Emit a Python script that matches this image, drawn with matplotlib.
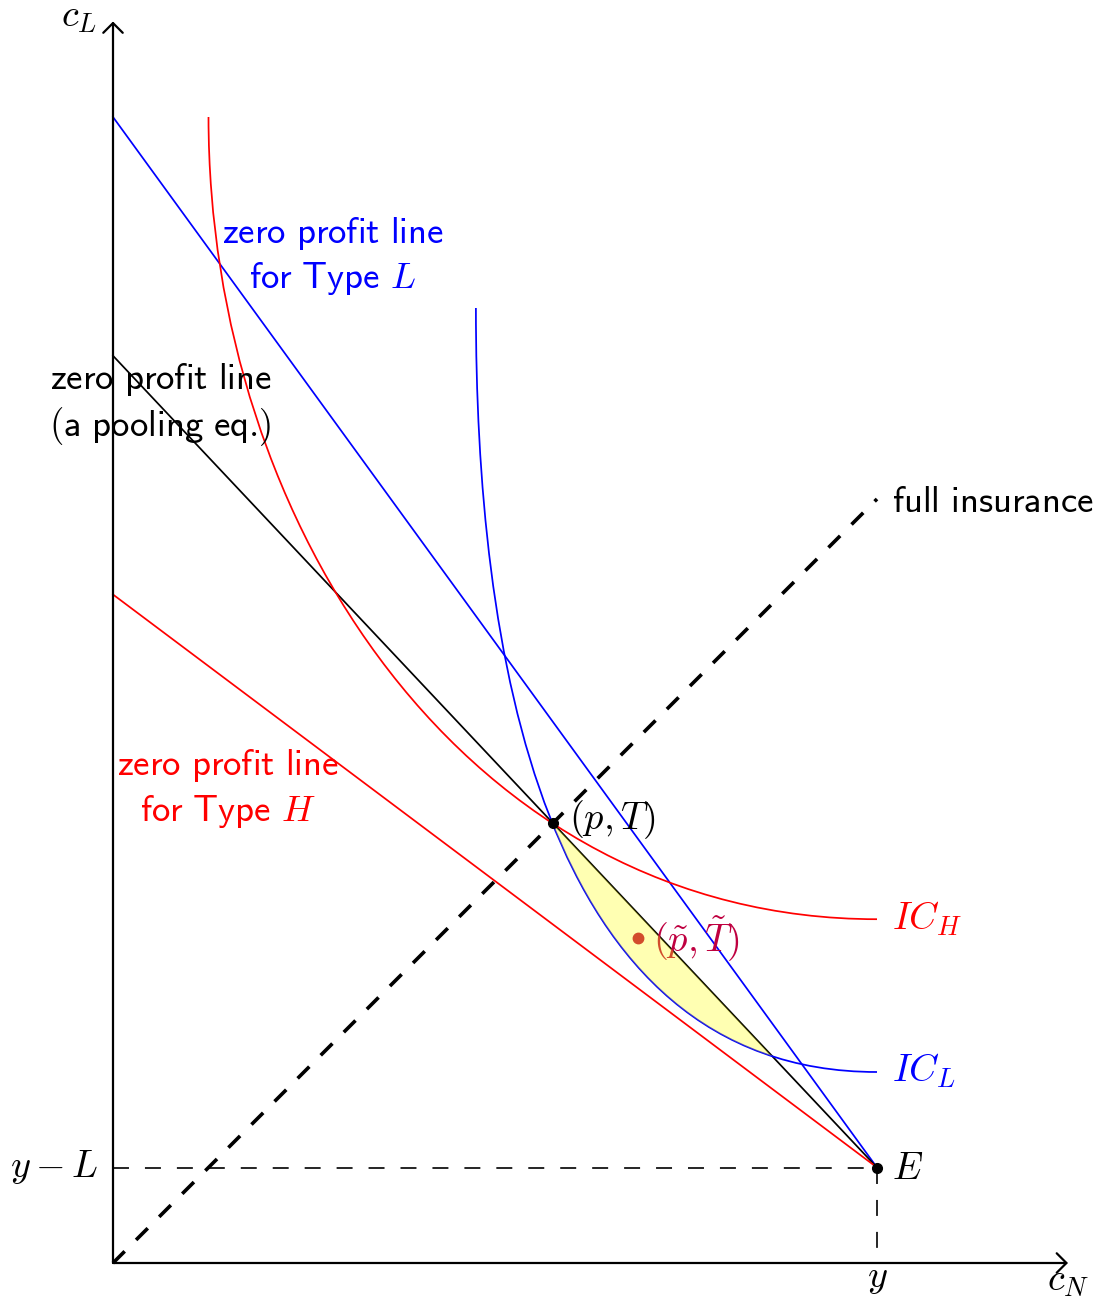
import numpy as np
import matplotlib
matplotlib.use("Agg")
import matplotlib.pyplot as plt
from matplotlib.path import Path
from matplotlib.patches import PathPatch
from matplotlib.bezier import BezierSegment

plt.rcParams["mathtext.fontset"] = "cm"
plt.rcParams["lines.scale_dashes"] = False

# --- model values -------------------------------------------------------
income = 8.0              # y : consumption with no loss (c_N)
income_after_loss = 1.0   # y - L : consumption after the loss (c_L)
zp_intercept_type_l = 12.0   # zero-profit line for the low-risk type
zp_intercept_pool = 9.5      # zero-profit line of a pooling contract
zp_intercept_type_h = 7.0    # zero-profit line for the high-risk type
ic_h_start = (1.0, 12.0)     # indifference curve of type H
ic_h_end = (8.0, 3.6)
ic_l_start = (3.8, 10.0)     # indifference curve of type L
ic_l_end = (8.0, 2.0)
full_insurance_end = 8.0
deviation = (5.5, 3.4)       # profitable deviation (p~, T~)
axis_x_max = 10.0
axis_y_max = 13.0

PURPLE = (191 / 255, 0, 64 / 255)
FS_MATH = 27.5
FS_SANS = 26.5


def curve_controls(p0, p3, out_deg, in_deg, looseness=1.0):
    """Cubic Bezier control polygon of a curve leaving p0 at out_deg and
    entering p3 from in_deg."""
    p0 = np.asarray(p0, float)
    p3 = np.asarray(p3, float)
    f = 0.3915 * looseness * np.hypot(*(p3 - p0))
    a, b = np.radians(out_deg), np.radians(in_deg)
    c1 = p0 + f * np.array([np.cos(a), np.sin(a)])
    c2 = p3 + f * np.array([np.cos(b), np.sin(b)])
    return np.array([p0, c1, c2, p3])


def zp_line(intercept):
    xs = np.array([0.0, income])
    return xs, np.array([intercept, income_after_loss])


fig = plt.figure(figsize=(10.97, 13), dpi=100)
ax = fig.add_axes([0, 0, 1, 1])
s = 95.5
ax.set_xlim(-113 / s, 984 / s)
ax.set_ylim(-37 / s, 1263 / s)
ax.axis("off")

# axes with open arrow heads
arrow_kw = dict(arrowstyle="->,head_length=0.35,head_width=0.35",
                lw=1.6, color="black", shrinkA=0, shrinkB=0, mutation_scale=20)
ax.annotate("", xy=(axis_x_max, 0), xytext=(0, 0), arrowprops=arrow_kw, zorder=6)
ax.annotate("", xy=(0, axis_y_max), xytext=(0, 0), arrowprops=arrow_kw, zorder=6)

# endowment guides
ax.plot([0, income], [income_after_loss, income_after_loss], color="black",
        lw=1.2, dashes=(11.5, 11.5), dash_capstyle="butt", zorder=2)
ax.plot([income, income], [income_after_loss, 0], color="black",
        lw=1.2, dashes=(11.5, 11.5), dash_capstyle="butt", zorder=2)

# full insurance line
ax.plot([0, full_insurance_end], [0, full_insurance_end], color="black",
        lw=2.6, dashes=(11.9, 11.6), dash_capstyle="butt", zorder=2)

# zero-profit lines
ax.plot(*zp_line(zp_intercept_type_l), color="blue", lw=1.25, zorder=3)
ax.plot(*zp_line(zp_intercept_pool), color="black", lw=1.25, zorder=3)
ax.plot(*zp_line(zp_intercept_type_h), color="red", lw=1.25, zorder=3)

# indifference curves
codes = [Path.MOVETO, Path.CURVE4, Path.CURVE4, Path.CURVE4]
ic_h_ctrl = curve_controls(ic_h_start, ic_h_end, -90, 180)
ic_l_ctrl = curve_controls(ic_l_start, ic_l_end, -90, 180)
ax.add_patch(PathPatch(Path(ic_h_ctrl, codes), fill=False, edgecolor="red",
                       lw=1.25, zorder=3))
ax.add_patch(PathPatch(Path(ic_l_ctrl, codes), fill=False, edgecolor="blue",
                       lw=1.25, zorder=3))

# pooling contract on the full insurance line
slope_pool = (zp_intercept_pool - income_after_loss) / income
p_pool = zp_intercept_pool / (1 + slope_pool)

# lens between the pooling line and IC_L
seg = BezierSegment(ic_l_ctrl)
pts = seg(np.linspace(0, 1, 3000))
below = pts[:, 1] < zp_intercept_pool - slope_pool * pts[:, 0]
lens = pts[below]
ax.fill(lens[:, 0], lens[:, 1], color="yellow", alpha=0.3, lw=0, zorder=4)

# points
ax.plot(income, income_after_loss, "o", color="black", ms=7, zorder=5)
ax.plot(p_pool, p_pool, "o", color="black", ms=7, zorder=5)
ax.plot(*deviation, "o", color=PURPLE, ms=7.5, zorder=3)

# labels
ax.text(-0.168, 12.946, r"$c_L$", fontsize=FS_MATH, ha="right", va="baseline")
ax.text(axis_x_max, -0.29, r"$c_N$", fontsize=FS_MATH, ha="center", va="baseline")
ax.text(income, -0.248, r"$y$", fontsize=FS_MATH, ha="center", va="baseline")
ax.text(-0.154, 0.904, r"$y-L$", fontsize=FS_MATH, ha="right", va="baseline")
ax.text(income + 0.154, 0.877, r"$E$", fontsize=FS_MATH, ha="left", va="baseline")
ax.text(p_pool + 0.17, 4.541, r"$(p,T)$", fontsize=FS_MATH, ha="left",
        va="baseline")
ax.text(deviation[0] + 0.157, 3.26, r"$(\tilde{p},\tilde{T})$", fontsize=FS_MATH,
        color=PURPLE, ha="left", va="baseline", zorder=3)
ax.text(ic_h_end[0] + 0.154, 3.487, r"$IC_H$", fontsize=FS_MATH, color="red",
        ha="left", va="baseline")
ax.text(ic_l_end[0] + 0.154, 1.898, r"$IC_L$", fontsize=FS_MATH, color="blue",
        ha="left", va="baseline")
ax.text(full_insurance_end + 0.154, 7.867, r"$\mathsf{full\ insurance}$",
        fontsize=FS_SANS, ha="left", va="baseline")

ax.text(2.298, 10.681, r"$\mathsf{zero\ profit\ line}$", fontsize=FS_SANS,
        color="blue", ha="center", va="baseline")
ax.text(2.298, 10.209, r"$\mathsf{for\ Type}\ L$", fontsize=FS_SANS,
        color="blue", ha="center", va="baseline")
ax.text(0.498, 9.149, r"$\mathsf{zero\ profit\ line}$", fontsize=FS_SANS,
        color="black", ha="center", va="baseline")
ax.text(0.498, 8.660, r"$\mathsf{(a\ pooling\ eq.}\hspace{-0.2}\mathsf{)}$",
        fontsize=FS_SANS, color="black", ha="center", va="baseline")
ax.text(1.199, 5.110, r"$\mathsf{zero\ profit\ line}$", fontsize=FS_SANS,
        color="red", ha="center", va="baseline")
ax.text(1.199, 4.631, r"$\mathsf{for\ Type}\ H$", fontsize=FS_SANS,
        color="red", ha="center", va="baseline")

fig.savefig("out.png", dpi=100)
